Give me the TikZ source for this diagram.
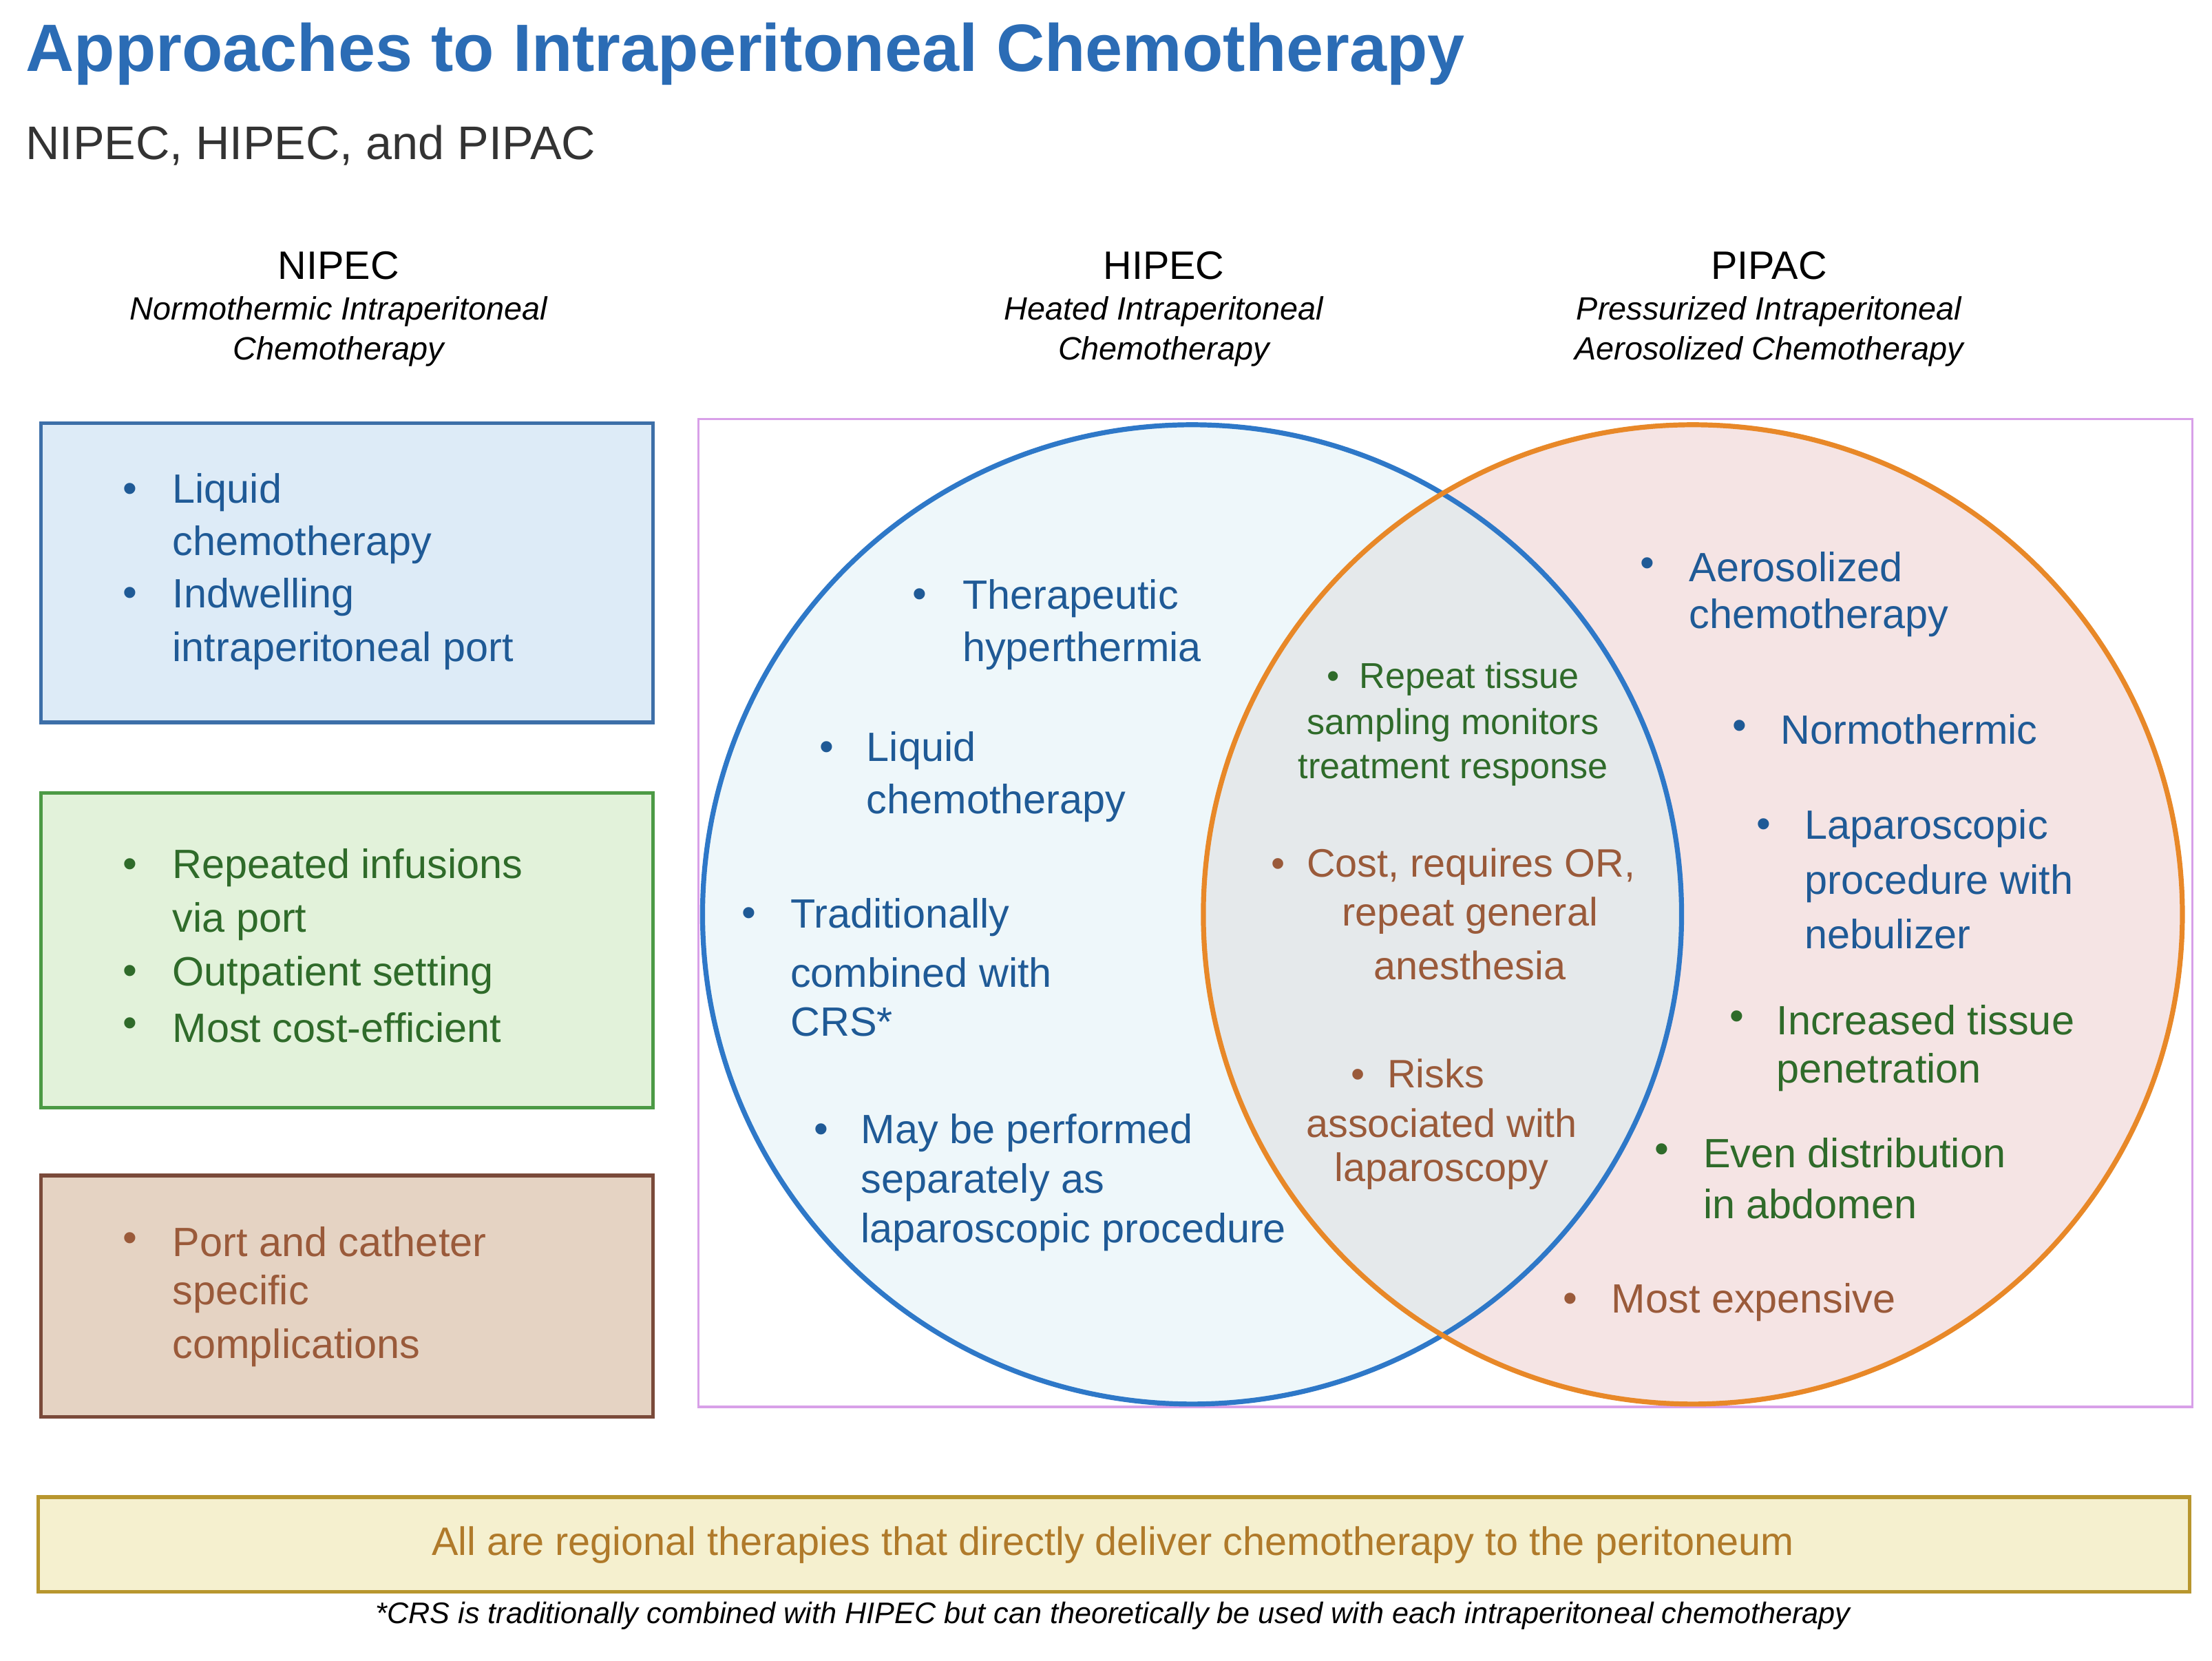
\documentclass[tikz,border=0pt]{standalone}
\usepackage{fontspec}
\setmainfont{Liberation Sans}
\definecolor{tblue}{HTML}{2B6CB5}
\definecolor{cblue}{HTML}{1F5A96}
\definecolor{cgreen}{HTML}{2F6B2A}
\definecolor{cbrown}{HTML}{9A5A3A}
\definecolor{cgold}{HTML}{B07A2A}
\definecolor{b1d}{RGB}{61,111,168}
\definecolor{b1f}{RGB}{221,235,247}
\definecolor{b2d}{RGB}{76,154,69}
\definecolor{b2f}{RGB}{226,242,218}
\definecolor{b3d}{RGB}{122,74,58}
\definecolor{b3f}{RGB}{229,211,195}
\definecolor{vd}{RGB}{216,160,232}
\definecolor{yd}{RGB}{184,150,46}
\definecolor{yf}{RGB}{245,240,207}
\definecolor{lf}{RGB}{238,247,250}
\definecolor{rf}{RGB}{245,228,228}
\definecolor{mf}{RGB}{229,233,235}
\definecolor{ld}{RGB}{46,120,200}
\definecolor{rd}{RGB}{232,136,40}
\tikzset{
 body/.style={anchor=west,inner sep=0,font=\fontsize{16.5}{19}\selectfont},
 mid/.style={anchor=center,inner sep=0,font=\fontsize{14.5}{17}\selectfont},
 head/.style={anchor=center,inner sep=0,font=\fontsize{16}{19}\selectfont},
 sub/.style={anchor=center,inner sep=0,font=\fontsize{13}{15}\itshape},
 bul/.style={anchor=center,inner sep=0,font=\fontsize{16.5}{19}\selectfont},
}
\newcommand\tl[5]{\node[body,#4] (#1) at (#2,#3) {#5};}
\newcommand\bu[4]{\node[bul,#4] (#1) at (#2,#3) {\textbullet};}
\begin{document}
\begin{tikzpicture}[x=0.02cm,y=-0.02cm]
\useasboundingbox (0,0) rectangle (1568,1177);
\fill[white] (0,0) rectangle (1568,1177);
\node[anchor=west,inner sep=0,font=\fontsize{27}{30}\bfseries,text=tblue] (title) at (18,38) {Approaches to Intraperitoneal Chemotherapy};
\node[anchor=west,inner sep=0,font=\fontsize{19}{22}\selectfont,text=black!80] (subt) at (18,103) {NIPEC, HIPEC, and PIPAC};
% headings
\node[head] (h1) at (240,188) {NIPEC};
\node[sub] (h1a) at (240,221) {Normothermic Intraperitoneal};
\node[sub] (h1b) at (240,249) {Chemotherapy};
\node[head] (h2) at (825,188) {HIPEC};
\node[sub] (h2a) at (825,221) {Heated Intraperitoneal};
\node[sub] (h2b) at (825,249) {Chemotherapy};
\node[head] (h3) at (1254,188) {PIPAC};
\node[sub] (h3a) at (1254,221) {Pressurized Intraperitoneal};
\node[sub] (h3b) at (1254,249) {Aerosolized Chemotherapy};
% boxes
\draw[draw=b1d,fill=b1f,line width=1.5] (29,300) rectangle (463,512);
\draw[draw=b2d,fill=b2f,line width=1.5] (29,562) rectangle (463,785);
\draw[draw=b3d,fill=b3f,line width=1.5] (29,833) rectangle (463,1004);
\draw[draw=vd,line width=1] (495,297) rectangle (1554,997);
\draw[draw=yd,fill=yf,line width=1.5] (27,1061) rectangle (1552,1128);
% venn
\fill[lf] (845,648) circle (347);
\fill[rf] (1200,648) circle (347);
\begin{scope}
\clip (845,648) circle (347);
\fill[mf] (1200,648) circle (347);
\end{scope}
\draw[ld,line width=2] (845,648) circle (347);
\draw[rd,line width=2] (1200,648) circle (347);
% box1
\begin{scope}[every node/.append style={text=cblue}]
\bu{b1}{92}{349}{} \tl{t1}{122}{349}{}{Liquid}
\tl{t2}{122}{386}{}{chemotherapy}
\bu{b2}{92}{423}{} \tl{t3}{122}{423}{}{Indwelling}
\tl{t4}{122}{461}{}{intraperitoneal port}
\end{scope}
\begin{scope}[every node/.append style={text=cgreen}]
\bu{b3}{92}{615}{} \tl{t5}{122}{615}{}{Repeated infusions}
\tl{t6}{122}{653}{}{via port}
\bu{b4}{92}{691}{} \tl{t7}{122}{691}{}{Outpatient setting}
\bu{b5}{92}{728}{} \tl{t8}{122}{728}{}{Most cost-efficient}
\end{scope}
\begin{scope}[every node/.append style={text=cbrown}]
\bu{b6}{92}{880}{} \tl{t9}{122}{880}{}{Port and catheter}
\tl{t10}{122}{917}{}{specific}
\tl{t11}{122}{955}{}{complications}
\end{scope}
% HIPEC
\begin{scope}[every node/.append style={text=cblue}]
\bu{c1}{652}{424}{} \tl{u1}{682}{424}{}{Therapeutic}
\tl{u2}{682}{461}{}{hyperthermia}
\bu{c2}{586}{532}{} \tl{u3}{614}{532}{}{Liquid}
\tl{u4}{614}{569}{}{chemotherapy}
\bu{c3}{531}{650}{} \tl{u5}{560}{650}{}{Traditionally}
\tl{u6}{560}{689}{}{combined with}
\tl{u7}{560}{724}{}{CRS*}
\bu{c4}{582}{803}{} \tl{u8}{610}{803}{}{May be performed}
\tl{u9}{610}{838}{}{separately as}
\tl{u10}{610}{873}{}{laparoscopic procedure}
\end{scope}
% intersection
\begin{scope}[every node/.append style={text=cgreen}]
\node[mid] (m1) at (1030,481) {\textbullet\ \ Repeat tissue};
\node[mid] (m2) at (1030,514) {sampling monitors};
\node[mid] (m3) at (1030,546) {treatment response};
\end{scope}
\begin{scope}[every node/.append style={text=cbrown}]
\node[mid,font=\fontsize{16}{19}\selectfont] (m4) at (1030,614) {\textbullet\ \ Cost, requires OR,};
\node[mid,font=\fontsize{16}{19}\selectfont] (m5) at (1042,649) {repeat general};
\node[mid,font=\fontsize{16}{19}\selectfont] (m6) at (1042,684) {anesthesia};
\node[mid,font=\fontsize{16}{19}\selectfont] (m7) at (1005,761) {\textbullet\ \ Risks};
\node[mid,font=\fontsize{16}{19}\selectfont] (m8) at (1022,796) {associated with};
\node[mid,font=\fontsize{16}{19}\selectfont] (m9) at (1022,830) {laparoscopy};
\end{scope}
% PIPAC
\begin{scope}[every node/.append style={text=cblue}]
\bu{d1}{1168}{402}{} \tl{v1}{1197}{402}{}{Aerosolized}
\tl{v2}{1197}{438}{}{chemotherapy}
\bu{d2}{1233}{517}{} \tl{v3}{1262}{517}{}{Normothermic}
\bu{d3}{1250}{587}{} \tl{v4}{1279}{587}{}{Laparoscopic}
\tl{v5}{1279}{626}{}{procedure with}
\tl{v6}{1279}{662}{}{nebulizer}
\end{scope}
\begin{scope}[every node/.append style={text=cgreen}]
\bu{d4}{1231}{723}{} \tl{v7}{1259}{723}{}{Increased tissue}
\tl{v8}{1259}{760}{}{penetration}
\bu{d5}{1178}{817}{} \tl{v9}{1207}{817}{}{Even distribution}
\tl{v10}{1207}{853}{}{in abdomen}
\end{scope}
\begin{scope}[every node/.append style={text=cbrown}]
\bu{d6}{1113}{923}{} \tl{v11}{1142}{923}{}{Most expensive}
\end{scope}
\node[anchor=center,inner sep=0,font=\fontsize{16}{19}\selectfont,text=cgold] (bot) at (789,1095) {All are regional therapies that directly deliver chemotherapy to the peritoneum};
\node[anchor=center,inner sep=0,font=\fontsize{12}{14}\itshape] (foot) at (789,1145) {*CRS is traditionally combined with HIPEC but can theoretically be used with each intraperitoneal chemotherapy};
\end{tikzpicture}
\end{document}
